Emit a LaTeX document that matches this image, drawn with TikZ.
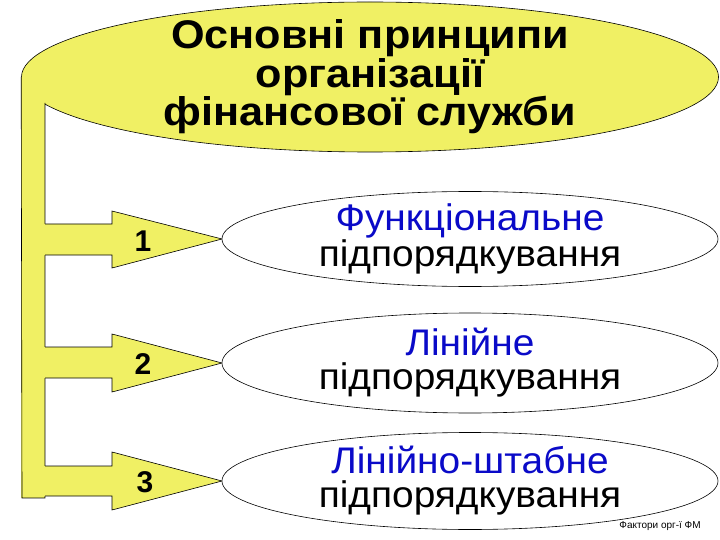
\documentclass[tikz,border=0pt]{standalone}
\usepackage{fontspec}
\setmainfont{Liberation Sans}
\newfontfamily\widebold[FakeStretch=1.08]{Liberation Sans}
\newfontfamily\widereg[FakeStretch=1.05]{Liberation Sans}
\usepackage{xcolor}
\usepackage{tikz}
\usetikzlibrary{shapes.geometric, positioning}

\definecolor{slideyellow}{RGB}{240,240,100}
\definecolor{slideblue}{RGB}{10,10,200}

\begin{document}
\begin{tikzpicture}[x=1pt, y=-1pt,
            title/.style   ={ellipse, draw=black, line width=0.6pt, fill=slideyellow,
                             minimum width=697pt, minimum height=150pt, inner sep=-12pt,
                             align=center, font=\widebold\fontsize{40}{35}\selectfont\bfseries},
            oval/.style    ={ellipse, draw=black, line width=0.6pt, fill=white,
                             minimum width=496pt, minimum height=96pt, inner sep=-10pt,
                             align=center, font=\widereg\fontsize{37}{34}\selectfont},
            num/.style     ={font=\fontsize{30}{30}\selectfont\bfseries, inner sep=0pt},
            blockarr/.style={fill=slideyellow}
        ]
            \useasboundingbox (0,0) rectangle (720,540);

            % heading
            \node[title] (princ) at (370,77) {Основні принципи\\організації\\фінансової служби};

            % vertical bar, laid over the heading
            \coordinate (bartop) at (45,103);
            \fill[slideyellow] (princ.west) rectangle (45,498);
            \draw[line width=0.6pt] (princ.west) -- (22,498) -- (45,498) -- (bartop);

            % block arrows from the bar
            \coordinate (t1) at (222,239);
            \coordinate (t2) at (222,363);
            \coordinate (t3) at (222,481);
            \fill[blockarr] (44,224) -- (112,224) -- (112,211) -- (t1) -- (112,268) -- (112,255) -- (44,255) -- cycle;
            \draw[line width=0.6pt] (45,224) -- (112,224) -- (112,211) -- (t1) -- (112,268) -- (112,255) -- (45,255);
            \fill[blockarr] (44,347) -- (112,347) -- (112,334) -- (t2) -- (112,392) -- (112,378) -- (44,378) -- cycle;
            \draw[line width=0.6pt] (45,347) -- (112,347) -- (112,334) -- (t2) -- (112,392) -- (112,378) -- (45,378);
            \fill[blockarr] (44,466) -- (112,466) -- (112,452) -- (t3) -- (112,510) -- (112,496) -- (44,496) -- cycle;
            \draw[line width=0.6pt] (45,466) -- (112,466) -- (112,452) -- (t3) -- (112,510) -- (112,496) -- (45,496);

            \node[num] (n1) at (143,241) {1};
            \node[num] (n2) at (143,364) {2};
            \node[num] (n3) at (145,482) {3};

            % the three kinds of subordination
            \node[oval, minimum height=95pt]  (func)  at (470,239) {\textcolor{slideblue}{Функціональне}\\підпорядкування};
            \node[oval, minimum height=100pt] (lin)   at (470,363) {\textcolor{slideblue}{Лінійне}\\підпорядкування};
            \node[oval, minimum height=97pt]  (shtab) at (470,481) {\textcolor{slideblue}{Лінійно-штабне}\\підпорядкування};

            \node[font=\fontsize{10}{10}\selectfont, inner sep=0pt] (foot) at (660,526) {Фактори орг-ї ФМ};

        \end{tikzpicture}
\end{document}
